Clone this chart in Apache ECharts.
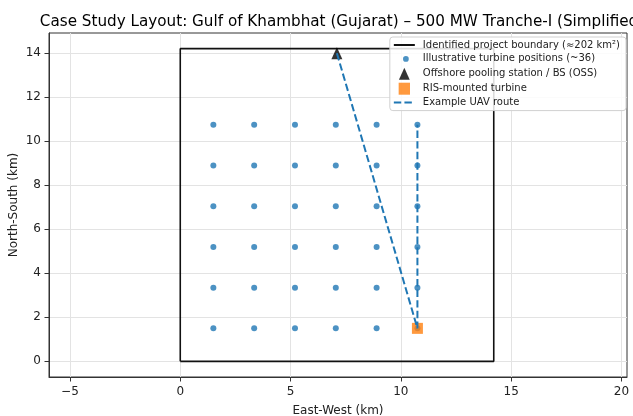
<!DOCTYPE html>
<html>
<head>
<meta charset="utf-8">
<script src="https://cdn.jsdelivr.net/npm/echarts@6/dist/echarts.min.js"></script>
<style>html,body{margin:0;padding:0;background:#fff;}#c{width:633px;height:416px;}</style>
</head>
<body>
<div id="c"></div>
<script>
const titleText = 'Case Study Layout: Gulf of Khambhat (Gujarat) – 500 MW Tranche-I (Simplified)';
const xTicks = [-5, 0, 5, 10, 15, 20];
const yTicks = [0, 2, 4, 6, 8, 10, 12, 14];
const boundaryX = [0, 14.21, 14.21, 0, 0];
const boundaryY = [0, 0, 14.21, 14.21, 0];
const turbineCols = [1.5, 3.35, 5.2, 7.05, 8.9, 10.75];
const turbineRows = [1.5, 3.35, 5.2, 7.05, 8.9, 10.75];
const ossPoint = [7.1, 14.0];
const risPoint = [10.75, 1.5];
const routeX = [7.1, 10.75, 10.75];
const routeY = [14.0, 1.5, 10.75];
const names = ['Identified project boundary (≈202 km²)', 'Illustrative turbine positions (~36)', 'Offshore pooling station / BS (OSS)', 'RIS-mounted turbine', 'Example UAV route'];

const turbines = [];
turbineRows.forEach(y => turbineCols.forEach(x => turbines.push([x, y])));

const font = 'DejaVu Sans';
const minusFmt = v => String(v).replace('-', '\u2212');
const hidden = {opacity: 0};
const chart = echarts.init(document.getElementById('c'));
chart.setOption({
  animation: false,
  backgroundColor: '#fff',
  title: {
    text: titleText, left: 337, top: 10, textAlign: 'center',
    textStyle: {fontFamily: font, fontSize: 15.2, fontWeight: 'normal', color: '#000'}
  },
  grid: {left: 49, right: 6, top: 33, bottom: 39, show: true, borderColor: '#333', borderWidth: 1,
         containLabel: false, outerBoundsMode: 'none'},
  legend: {
    orient: 'vertical', right: 7, top: 37,
    data: [
      {name: names[0], itemStyle: hidden},
      {name: names[1], icon: 'path://M0,0 L0.01,0 M0,10 L0.01,10 M5,2.6 A2.4,2.4 0 1,1 5,7.4 A2.4,2.4 0 1,1 5,2.6 Z'},
      {name: names[2], icon: 'path://M4,0 L8.5,10 L-0.5,10 Z'},
      {name: names[3], icon: 'path://M0,0 L9,0 L9,9.5 L0,9.5 Z'},
      {name: names[4], itemStyle: hidden}
    ],
    itemWidth: 21, itemHeight: 12, itemGap: 2.9,
    padding: [3, 6, 3, 3],
    backgroundColor: 'rgba(255,255,255,0.85)', borderColor: '#d0d0d0', borderWidth: 1, borderRadius: 3,
    textStyle: {fontFamily: font, fontSize: 10, color: '#222', padding: [0, 0, 0, 3]}
  },
  xAxis: {
    type: 'value', min: -5.95, max: 20.25,
    name: 'East-West (km)', nameLocation: 'middle', nameGap: 28, nameMoveOverlap: false,
    nameTextStyle: {fontFamily: font, fontSize: 12, color: '#222'},
    axisLine: {show: true, onZero: false, lineStyle: {color: '#333'}},
    axisTick: {show: true, customValues: xTicks, length: 4.5, lineStyle: {color: '#333'}},
    axisLabel: {customValues: xTicks, formatter: minusFmt, fontFamily: font, fontSize: 12, color: '#222', margin: 9},
    splitLine: {show: true, lineStyle: {color: '#e3e3e3', width: 1}}
  },
  yAxis: {
    type: 'value', min: -0.71, max: 14.92,
    name: 'North-South (km)', nameLocation: 'middle', nameGap: 29, nameRotate: 90, nameMoveOverlap: false,
    nameTextStyle: {fontFamily: font, fontSize: 12, color: '#222'},
    axisLine: {show: true, onZero: false, lineStyle: {color: '#333'}},
    axisTick: {show: true, customValues: yTicks, length: 4.5, lineStyle: {color: '#333'}},
    axisLabel: {customValues: yTicks, formatter: minusFmt, fontFamily: font, fontSize: 12, color: '#222', margin: 8},
    splitLine: {show: true, lineStyle: {color: '#e3e3e3', width: 1}}
  },
  series: [
    {
      name: names[0], type: 'line', data: boundaryX.map((x, i) => [x, boundaryY[i]]),
      showSymbol: false, symbol: 'none', lineStyle: {color: '#111', width: 1.6}, itemStyle: {color: '#111'}, z: 2
    },
    {
      name: names[1], type: 'scatter', data: turbines, symbol: 'circle', symbolSize: 6,
      itemStyle: {color: '#1f77b4', opacity: 0.8}, z: 3
    },
    {
      name: names[2], type: 'scatter', data: [ossPoint], symbol: 'triangle', symbolSize: [11, 12],
      itemStyle: {color: '#000'}, z: 5
    },
    {
      name: names[3], type: 'scatter', data: [risPoint], symbol: 'rect', symbolSize: 11,
      itemStyle: {color: '#ff7f0e'}, z: 5
    },
    {
      name: names[4], type: 'line', data: routeX.map((x, i) => [x, routeY[i]]),
      showSymbol: false, symbol: 'none',
      lineStyle: {color: '#1f77b4', width: 2, type: [7.4, 3.2]}, itemStyle: {color: '#1f77b4'}, z: 6
    }
  ]
});
</script>
</body>
</html>
